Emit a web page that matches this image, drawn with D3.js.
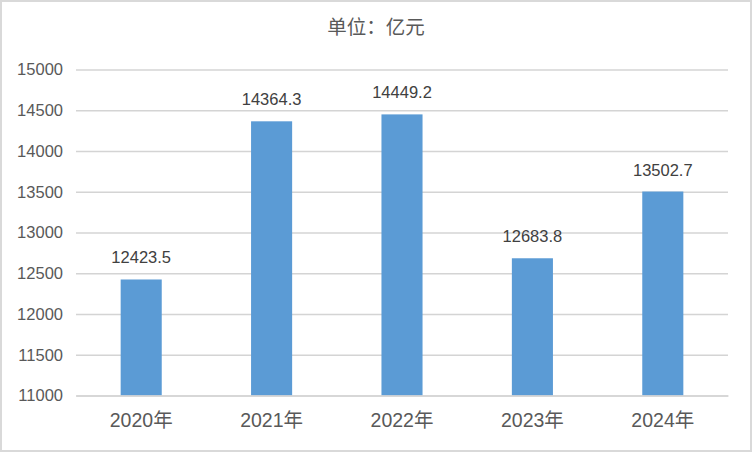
<!DOCTYPE html>
<html><head><meta charset="utf-8">
<script src="https://cdn.jsdelivr.net/npm/d3@7"></script>
<style>html,body{margin:0;padding:0;background:#fff;}svg{display:block;}</style>
</head><body>
<script>
const categories = ["2020年","2021年","2022年","2023年","2024年"];
const values = [12423.5, 14364.3, 14449.2, 12683.8, 13502.7];
const yTicks = [11000,11500,12000,12500,13000,13500,14000,14500,15000];
const title = "单位：亿元";

const W = 752, H = 452;
const m = {left: 76, right: 24, top: 69.5, bottom: 56.5};
const svg = d3.select("body").append("svg").attr("width", W).attr("height", H);
svg.append("rect").attr("x",1).attr("y",1).attr("width",W-2).attr("height",H-2)
  .attr("fill","#fff").attr("stroke","#d9d9d9").attr("stroke-width",2);

const font = "'Liberation Sans', 'Noto Sans CJK SC', sans-serif";
const x = d3.scaleBand().domain(categories).range([m.left, W-m.right]).paddingInner(0.685).paddingOuter(0.3425);
const y = d3.scaleLinear().domain([11000,15000]).range([H-m.bottom, m.top]);

const yAxis = svg.append("g").attr("transform",`translate(${m.left},0)`)
  .call(d3.axisLeft(y).tickValues(yTicks).tickSize(-(W-m.left-m.right)).tickPadding(13).tickFormat(d3.format("d")));
yAxis.select(".domain").remove();
yAxis.selectAll("line").attr("stroke","#d4d4d4").attr("stroke-width",1.6);
yAxis.selectAll("text").attr("fill","#595959").style("font-family",font).style("font-size","16.5px");

svg.append("g").selectAll("rect").data(values).join("rect")
  .attr("x",(d,i)=>x(categories[i])).attr("width",x.bandwidth())
  .attr("y",d=>y(d)).attr("height",d=>y(11000)-y(d)).attr("fill","#5b9bd5");

svg.append("g").selectAll("text").data(values).join("text")
  .attr("x",(d,i)=>x(categories[i])+x.bandwidth()/2).attr("y",d=>y(d)-16)
  .attr("text-anchor","middle").attr("fill","#404040")
  .style("font-family",font).style("font-size","16.5px").text(d=>d3.format(".1f")(d));

const xAxis = svg.append("g").attr("transform",`translate(0,${H-m.bottom})`)
  .call(d3.axisBottom(x).tickSize(0).tickPadding(18));
xAxis.select(".domain").attr("stroke","#d4d4d4").attr("stroke-width",1.6);
xAxis.selectAll("text").attr("fill","#595959").style("font-family",font).style("font-size","19.5px");

svg.append("text").attr("x",376).attr("y",34).attr("text-anchor","middle")
  .attr("fill","#595959").style("font-family",font).style("font-size","19.5px").text(title);
</script>
</body></html>
